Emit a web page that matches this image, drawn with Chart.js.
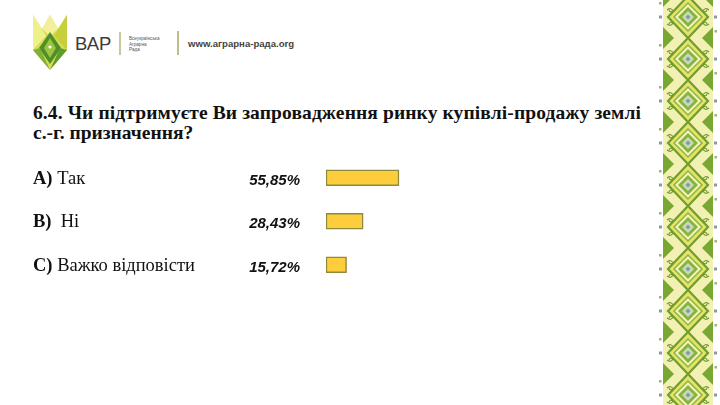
<!DOCTYPE html>
<html>
<head>
<meta charset="utf-8">
<script src="https://cdn.jsdelivr.net/npm/chart.js@4"></script>
<style>
  html, body { margin: 0; padding: 0; background: #fff; }
  #page { position: relative; width: 720px; height: 405px; overflow: hidden; background: #fff; }
  #chart { position: absolute; left: 0; top: 0; }
  #title { position: absolute; left: 33px; top: 103px; font-family: "Liberation Serif", serif; font-weight: bold;
           font-size: 19.5px; line-height: 20px; color: #111; white-space: nowrap; }
  #logo { position: absolute; left: 0; top: 0; }
  #ornament { position: absolute; left: 656px; top: 0; }
</style>
</head>
<body>
<div id="page">
  <svg id="logo" width="300" height="80" xmlns="http://www.w3.org/2000/svg">
    <polygon points="33,15 42,29 50,15 58,29 67,15 67,50 50,70 33,50" fill="#d7dc55"/>
    <polygon points="33,15 42,29 46,36 33,50" fill="#eef08a"/>
    <polygon points="67,15 58,29 54,36 67,50" fill="#c6cf3c"/>
    <polygon points="50,15 58,29 50,36 42,29" fill="#f3ef9a"/>
    <polygon points="50,32 61,48 50,64 39,48" fill="#4f8f2a"/>
    <polygon points="50,38 56,48 50,58 44,48" fill="#9cc43c"/>
    <circle cx="50" cy="47" r="1.6" fill="#fff"/>
    <polygon points="33,50 40,48 50,70" fill="#7fb038"/>
    <polygon points="67,50 60,48 50,70" fill="#5f9a2e"/>
    <text x="75" y="50" font-family="Liberation Sans, Arial, sans-serif" font-size="18.5" fill="#3b3b3b">ВАР</text>
    <line x1="120" y1="32" x2="120" y2="55" stroke="#a3a35a" stroke-width="1.2"/>
    <text font-family="Liberation Sans, Arial, sans-serif" font-size="4.6" fill="#555">
      <tspan x="129" y="40">Всеукраїнська</tspan>
      <tspan x="129" y="45.5">Аграрна</tspan>
      <tspan x="129" y="51">Рада</tspan>
    </text>
    <line x1="178" y1="31" x2="178" y2="55" stroke="#a3a35a" stroke-width="1.4"/>
    <text x="188" y="47" font-family="Liberation Sans, Arial, sans-serif" font-size="9.6" font-weight="bold" fill="#444">www.аграрна-рада.org</text>
  </svg>

  <svg id="ornament" width="64" height="405" xmlns="http://www.w3.org/2000/svg">
    <defs>
      <pattern id="emb" x="0" y="-4" width="64" height="42" patternUnits="userSpaceOnUse">
        <rect x="7" y="0" width="50" height="42" fill="#f3f0b4"/>
        <polygon points="32,0 52,21 32,42 12,21" fill="#e6e26c" stroke="#6f9e2c" stroke-width="2.2"/>
        <polygon points="32,7 46,21 32,35 18,21" fill="#f5f2c2" stroke="#8cb83a" stroke-width="1.5"/>
        <polygon points="32,11 42,21 32,31 22,21" fill="#86b53a"/>
        <polygon points="32,15 38,21 32,27 26,21" fill="#cbd8bd"/>
        <polygon points="32,18.5 34.5,21 32,23.5 29.5,21" fill="#7a9f9c"/>
        <polygon points="7,0 18,0 7,11" fill="#79a832"/>
        <polygon points="7,42 18,42 7,31" fill="#79a832"/>
        <polygon points="57,0 46,0 57,11" fill="#79a832"/>
        <polygon points="57,42 46,42 57,31" fill="#79a832"/>
        <path d="M11,14 q4,-3 6,1 q-3,2 -4,-1" fill="none" stroke="#6f9e2c" stroke-width="1.2"/>
        <path d="M53,28 q-4,3 -6,-1 q3,-2 4,1" fill="none" stroke="#6f9e2c" stroke-width="1.2"/>
        <path d="M53,14 q-4,-3 -6,1 q3,2 4,-1" fill="none" stroke="#6f9e2c" stroke-width="1.2"/>
        <path d="M11,28 q4,3 6,-1 q-3,-2 -4,1" fill="none" stroke="#6f9e2c" stroke-width="1.2"/>
        <rect x="3" y="19.5" width="3" height="3" fill="#8c9a9c"/>
        <rect x="58" y="19.5" width="3" height="3" fill="#8c9a9c"/>
        <rect x="3" y="6" width="2.5" height="2.5" fill="#a6b07a"/>
        <rect x="58.5" y="34" width="2.5" height="2.5" fill="#a6b07a"/>
      </pattern>
    </defs>
    <rect x="0" y="0" width="64" height="405" fill="url(#emb)"/>
  </svg>

  <div id="title"><span id="t1">6.4. Чи підтримуєте Ви запровадження ринку купівлі-продажу землі</span><br>с.-г. призначення?</div>

  <canvas id="chart" width="720" height="405"></canvas>
</div>

<script>
// answer letters, answer texts and shares (%)
const letters = ['A)', 'B)', 'C)'];
const answers = ['Так', ' Ні', 'Важко відповісти'];
const shares = [55.85, 28.43, 15.72];

// stretch the first title line to the slide's width
const t1 = document.getElementById('t1');
const gap = (608 - t1.getBoundingClientRect().width) / (t1.textContent.length - 1);
t1.style.letterSpacing = gap + 'px';

function fmtShare(v) {
    return v.toFixed(2).replace('.', ',') + '%';
}

// question labels and percentages on the left of each bar
const sideLabels = {
    id: 'sideLabels',
    afterDatasetsDraw(chart) {
        const ctx = chart.ctx;
        const yScale = chart.scales.y;
        ctx.save();
        ctx.fillStyle = '#111';
        ctx.textBaseline = 'alphabetic';
        letters.forEach((letter, i) => {
            const y = yScale.getPixelForValue(i);
            ctx.textAlign = 'left';
            ctx.font = 'bold 18.5px "Liberation Serif", serif';
            ctx.fillText(letter, 33, y + 6);
            const w = ctx.measureText(letter).width;
            ctx.font = '18.5px "Liberation Serif", serif';
            ctx.fillText(' ' + answers[i], 33 + w, y + 6);
            ctx.textAlign = 'right';
            ctx.font = 'italic bold 15px "Liberation Sans", Arial, sans-serif';
            ctx.fillText(fmtShare(shares[i]), 300, y + 7);
        });
        ctx.restore();
    }
};

new Chart(document.getElementById('chart'), {
    type: 'bar',
    data: {
        labels: letters,
        datasets: [{
            data: shares,
            backgroundColor: '#fdcd3b',
            borderColor: '#8e8a3c',
            borderWidth: 1.5,
            borderSkipped: false,
            barThickness: 16
        }]
    },
    options: {
        indexAxis: 'y',
        responsive: false,
        animation: false,
        layout: { padding: { left: 326, right: 263.3, top: 156, bottom: 118.5 } },
        plugins: {
            legend: { display: false },
            tooltip: { enabled: false }
        },
        scales: {
            x: { display: false, min: 0, max: 100 },
            y: { display: false }
        }
    },
    plugins: [sideLabels]
});
</script>
</body>
</html>
